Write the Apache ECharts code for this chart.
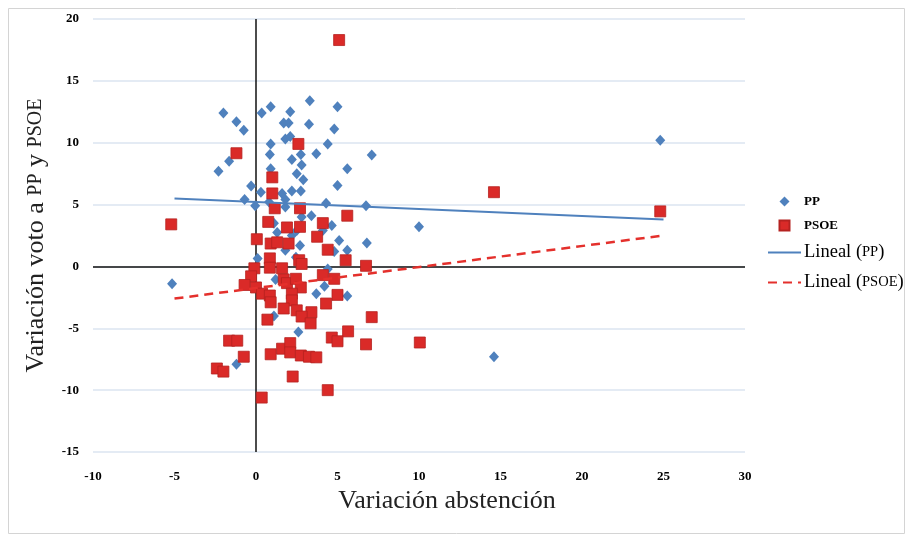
<!DOCTYPE html>
<html>
<head>
<meta charset="utf-8">
<script src="https://cdn.jsdelivr.net/npm/echarts@6/dist/echarts.min.js"></script>
<style>html,body{margin:0;padding:0;background:#fff}#c{width:910px;height:536px}</style>
</head>
<body>
<div id="c"></div>
<script>
var xTicks = [-10, -5, 0, 5, 10, 15, 20, 25, 30];
var yTicks = [-15, -10, -5, 0, 5, 10, 15, 20];

var ppData = [
  [24.8,10.2],[14.6,-7.3],[10.0,3.2],[-5.15,-1.4],[-2.0,12.4],[-1.2,11.7],[-0.75,11.0],
  [-1.65,8.5],[-2.3,7.7],[-0.3,6.5],[-0.7,5.4],[-0.05,4.9],[0.35,12.4],[0.9,12.9],
  [2.1,12.5],[3.3,13.4],[5.0,12.9],[1.7,11.6],[2.0,11.6],[3.25,11.5],[4.8,11.1],
  [1.8,10.3],[2.1,10.5],[0.9,9.9],[0.85,9.05],[2.2,8.65],[2.75,9.05],[3.7,9.1],
  [4.4,9.9],[7.1,9.0],[2.8,8.2],[0.9,7.9],[2.5,7.5],[2.9,7.0],[5.6,7.9],[5.0,6.55],
  [0.3,6.0],[2.2,6.1],[2.75,6.1],[1.6,5.9],[1.8,5.4],[0.8,5.2],[4.3,5.1],[6.75,4.9],
  [3.4,4.1],[1.1,3.5],[4.65,3.3],[1.3,2.75],[2.2,2.5],[5.1,2.1],[6.8,1.9],[2.7,1.7],
  [5.6,1.3],[1.8,1.3],[0.1,0.65],[2.45,0.75],[4.4,-0.2],[4.1,2.9],[4.8,1.2],[1.2,-1.05],
  [4.2,-1.6],[3.7,-2.2],[5.6,-2.4],[1.1,-4.0],[2.6,-5.3],[-1.2,-7.9],[1.8,4.8],
  [2.8,4.0],[2.5,2.9]
];

var psoeData = [
  [5.1,18.3],[14.6,6.0],[24.8,4.45],[10.05,-6.15],[-5.2,3.4],[-1.2,9.15],[2.6,9.9],
  [1.0,7.2],[1.0,5.9],[1.15,4.7],[2.7,4.7],[5.6,4.1],[0.75,3.6],[1.9,3.15],[2.7,3.2],
  [4.1,3.5],[3.75,2.4],[0.05,2.2],[0.9,1.85],[1.3,1.95],[2.0,1.85],[4.4,1.35],[5.5,0.5],
  [6.75,0.05],[0.85,0.65],[2.65,0.5],[2.8,0.2],[-0.1,-0.15],[-0.3,-0.8],[0.85,-0.1],
  [1.6,-0.15],[-0.7,-1.5],[0.0,-1.7],[0.37,-2.2],[0.85,-2.35],[0.9,-2.9],[1.7,-1.05],
  [1.9,-1.35],[2.45,-1.0],[2.75,-1.7],[2.2,-2.2],[2.2,-2.75],[4.1,-0.7],[4.8,-1.0],
  [5.0,-2.3],[4.3,-3.0],[1.7,-3.4],[2.5,-3.55],[3.4,-3.7],[2.8,-4.05],[3.35,-4.6],
  [0.7,-4.3],[7.1,-4.1],[5.65,-5.25],[4.65,-5.75],[5.0,-6.05],[6.75,-6.3],[-1.65,-6.0],
  [-1.15,-6.0],[-0.75,-7.3],[0.9,-7.1],[1.6,-6.65],[2.1,-6.2],[2.1,-6.95],[2.75,-7.2],
  [3.25,-7.3],[3.7,-7.35],[-2.4,-8.25],[-2.0,-8.5],[2.25,-8.9],[4.4,-10.0],[0.35,-10.6]
];

var ppTrend = [[-5, 5.5], [25, 3.8]];
var psoeTrend = [[-5, -2.6], [25, 2.5]];

var serif = '"Liberation Serif", "DejaVu Serif", serif';
var tickFont = { fontFamily: serif, fontWeight: 'bold', fontSize: 13, color: '#000' };

var chart = echarts.init(document.getElementById('c'), null, { renderer: 'canvas' });
chart.setOption({
  animation: false,
  backgroundColor: '#fff',
  graphic: [{
    type: 'rect', silent: true, z: -10,
    shape: { x: 8.5, y: 8.5, width: 896, height: 525 },
    style: { fill: 'none', stroke: '#d4d4d4', lineWidth: 1 }
  }],
  grid: { left: 93, right: 165, top: 19, bottom: 84 },
  legend: {
    orient: 'vertical', left: 762, top: 190, itemGap: 11, itemWidth: 33, itemHeight: 10,
    symbolKeepAspect: true,
    data: [
      { name: 'PP', icon: 'path://M5,0L10,5L5,10L0,5Z' },
      { name: 'PSOE', icon: 'path://M0,0L10,0L10,10L0,10Z' },
      { name: 'Lineal (PP)', itemStyle: { opacity: 0 } },
      { name: 'Lineal (PSOE)', itemStyle: { opacity: 0 } }
    ],
    formatter: function (n) {
      if (n === 'PP') return '{sc|PP}';
      if (n === 'PSOE') return '{sc|PSOE}';
      if (n === 'Lineal (PP)') return '{n|Lineal (}{s2|PP}{n|)}';
      return '{n|Lineal (}{s2|PSOE}{n|)}';
    },
    textStyle: {
      fontFamily: serif, color: '#000', padding: [0, 0, 0, -2],
      rich: {
        sc: { fontFamily: serif, fontSize: 13, fontWeight: 'bold', color: '#000', lineHeight: 17 },
        n: { fontFamily: serif, fontSize: 18.5, color: '#000', lineHeight: 17 },
        s2: { fontFamily: serif, fontSize: 14.5, color: '#000', lineHeight: 17 }
      }
    }
  },
  xAxis: {
    type: 'value', min: -10, max: 30, interval: 5,
    name: 'Variación abstención', nameLocation: 'middle', nameGap: 34,
    nameTextStyle: { fontFamily: serif, fontSize: 26, color: '#222', padding: [0, 0, 0, 56] },
    axisLine: { show: false, onZero: false },
    axisTick: { show: false },
    splitLine: { show: false },
    axisLabel: Object.assign({ margin: 18, formatter: function (v) { return xTicks.indexOf(v) >= 0 ? String(v) : ''; } }, tickFont)
  },
  yAxis: {
    type: 'value', min: -15, max: 20, interval: 5,
    name: '{a|Variación voto a }{b|PP}{a| y }{b|PSOE}', nameLocation: 'middle', nameGap: 44,
    nameTextStyle: {
      rich: {
        a: { fontFamily: serif, fontSize: 26, color: '#222' },
        b: { fontFamily: serif, fontSize: 20, color: '#222' }
      }
    },
    axisLine: { show: false, onZero: false },
    axisTick: { show: false },
    splitLine: { show: true, lineStyle: { color: '#dbe5f1', width: 1.5 } },
    axisLabel: Object.assign({ margin: 14, formatter: function (v) { return yTicks.indexOf(v) >= 0 ? String(v) : ''; } }, tickFont)
  },
  series: [
    {
      name: 'zero', type: 'line', data: [], z: 1, silent: true,
      markLine: {
        silent: true, symbol: 'none', z: 1, animation: false,
        label: { show: false },
        lineStyle: { color: '#111', width: 1.5, type: 'solid' },
        data: [{ xAxis: 0 }, { yAxis: 0 }]
      }
    },
    {
      name: 'PP', type: 'scatter', data: ppData, symbol: 'diamond', symbolSize: [10, 11], z: 3,
      itemStyle: { color: '#4f81bd', opacity: 1 }
    },
    {
      name: 'PSOE', type: 'scatter', data: psoeData, symbol: 'rect', symbolSize: 11, z: 4,
      itemStyle: { color: '#da2a28', borderColor: '#b52220', borderWidth: 0.8, opacity: 1 }
    },
    {
      name: 'Lineal (PP)', type: 'line', data: ppTrend, symbol: 'none', z: 5,
      lineStyle: { color: '#4f81bd', width: 2 }, itemStyle: { color: '#4f81bd' }
    },
    {
      name: 'Lineal (PSOE)', type: 'line', data: psoeTrend, symbol: 'none', z: 5,
      lineStyle: { color: '#e4302c', width: 2.5, type: [9, 6] }, itemStyle: { color: '#e4302c' }
    }
  ]
});
</script>
</body>
</html>
